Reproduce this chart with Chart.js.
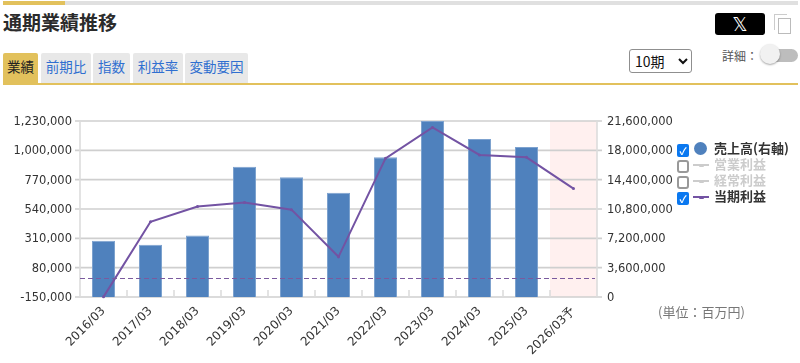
<!DOCTYPE html>
<html lang="ja"><head><meta charset="utf-8">
<style>
html,body{margin:0;padding:0;background:#fff;width:800px;height:363px;overflow:hidden;font-family:"Noto Sans CJK JP","Noto Sans",sans-serif;color:#333}
.a{position:absolute;white-space:nowrap}
#wrap{position:absolute;left:0;top:100px;width:800px;height:263px}
.tab{position:absolute;top:53px;height:30px;background:#e8e8e8;border-radius:2px 2px 0 0;color:#2f6fd0;font-size:13.5px;line-height:27px;text-align:center}
.cb{position:absolute;left:677px;width:12px;height:13px;border-radius:2px;box-sizing:border-box}
.on{background:#0a78f0;color:#fff}
.off{border:2px solid #999;background:#fff;border-radius:3px}
.lg{position:absolute;left:714px;font-size:13px;font-weight:700;line-height:16px}
.dot{position:absolute;left:699px;width:5px;height:3px;border-radius:1px}
select{position:absolute;left:629px;top:49px;width:63px;height:24px;font-size:14px;font-family:"Noto Sans CJK JP";background:#fff;color:#111;border:1px solid #8f8f8f;border-radius:3px;padding:0 0 0 1px}
</style></head><body>
<div class="a" style="left:3px;top:1px;width:62px;height:4px;background:#e2c15c"></div>
<div class="a" style="left:65px;top:1px;width:733px;height:4px;background:#e0e0e0"></div>
<div class="a" style="left:3px;top:9px;font-size:19px;font-weight:700;line-height:26px;color:#2b2b2b">通期業績推移</div>
<div class="tab" style="left:3px;width:35px;background:#e2c15c;color:#222">業績</div>
<div class="tab" style="left:41px;width:50px">前期比</div>
<div class="tab" style="left:93px;width:37px">指数</div>
<div class="tab" style="left:133px;width:50px">利益率</div>
<div class="tab" style="left:185px;width:63px">変動要因</div>
<div class="a" style="left:3px;top:83px;width:795px;height:2px;background:#e2c15c"></div>
<div class="a" style="left:715px;top:13px;width:50px;height:22px;background:#000;border-radius:3px;color:#fff;font-size:19px;line-height:22px;text-align:center;font-family:'DejaVu Sans'">𝕏</div>
<div class="a" style="left:774px;top:14px;width:12px;height:15px;border:1.5px solid #ccc;border-right:0;border-bottom:0"></div>
<div class="a" style="left:778px;top:18px;width:11px;height:14px;border:1.5px solid #bbb;background:#fff"></div>
<select><option>10期</option></select>
<div class="a" style="left:722px;top:47px;font-size:12px;line-height:18px;color:#555">詳細：</div>
<div class="a" style="left:765px;top:49px;width:33px;height:13px;border-radius:7px;background:#bdbdbd"></div>
<div class="a" style="left:760px;top:44px;width:20px;height:20px;border-radius:50%;background:#f1f1f1;box-shadow:0 1px 2px rgba(0,0,0,.35)"></div>
<div id="wrap"><canvas id="c" width="800" height="263"></canvas></div>
<div class="cb on" style="top:144px;font-size:10px;font-weight:700;line-height:13px;text-align:center">✓</div>
<div class="cb off" style="top:160px"></div>
<div class="cb off" style="top:176px"></div>
<div class="cb on" style="top:192px;font-size:10px;font-weight:700;line-height:13px;text-align:center">✓</div>
<div class="a" style="left:694px;top:142px;width:13px;height:13px;border-radius:50%;background:#4f81bd"></div>
<div class="a" style="left:693px;top:164px;width:16px;height:2px;background:#ccc"></div>
<div class="dot" style="top:163.5px;background:#ccc"></div>
<div class="a" style="left:693px;top:180px;width:16px;height:2px;background:#ccc"></div>
<div class="dot" style="top:179.5px;background:#ccc"></div>
<div class="a" style="left:693px;top:196px;width:16px;height:2px;background:#7353a3"></div>
<div class="dot" style="top:195.5px;background:#7353a3"></div>
<div class="lg" style="top:140px">売上高(右軸)</div>
<div class="lg" style="top:156px;color:#ccc">営業利益</div>
<div class="lg" style="top:172px;color:#ccc">経常利益</div>
<div class="lg" style="top:188px">当期利益</div>
<div class="a" style="left:658px;top:304px;font-size:13px;line-height:16px;color:#777">(単位：百万円)</div>
<script src="https://cdn.jsdelivr.net/npm/chart.js@4/dist/chart.umd.min.js"></script>
<script>
const categories=["2016/03","2017/03","2018/03","2019/03","2020/03","2021/03","2022/03","2023/03","2024/03","2025/03","2026/03予"];
const revenue=[6900000,6400000,7550000,16000000,14700000,12800000,17150000,21600000,19400000,18400000,null];
const netProfit=[-149000,440000,560000,590000,535000,165000,937000,1180000,964000,945000,700000];
const leftTicks=[-150000,80000,310000,540000,770000,1000000,1230000];
const rightTicks=[0,3600000,7200000,10800000,14400000,18000000,21600000];
const forecastIndex=10;
const fmt=v=>Number(v).toLocaleString('en-US');
const underlay={id:'underlay',beforeDatasetsDraw(ch){
  const {ctx,scales:{x,yL},chartArea:a}=ch;
  const w=x.getPixelForValue(1)-x.getPixelForValue(0);
  ctx.save();ctx.fillStyle='#fff0ef';
  const l=x.getPixelForValue(forecastIndex)-w/2;
  ctx.fillRect(l,a.top,a.right-l,a.bottom-a.top);
  ctx.strokeStyle='#cfcfcf';ctx.lineWidth=1.6;ctx.beginPath();
  leftTicks.forEach(t=>{const y=yL.getPixelForValue(t);ctx.moveTo(a.left-5,y);ctx.lineTo(a.right+5,y);});
  ctx.stroke();
  ctx.strokeStyle='#dcdcdc';ctx.beginPath();
  for(let i=1;i<categories.length;i++){const px=x.getPixelForValue(i)-w/2;ctx.moveTo(px,a.bottom);ctx.lineTo(px,a.bottom-7);}
  ctx.moveTo(a.left,a.top);ctx.lineTo(a.left,a.bottom);
  ctx.moveTo(a.right,a.top);ctx.lineTo(a.right,a.bottom);
  ctx.stroke();ctx.restore();
},afterDatasetsDraw(ch){
  const {ctx,scales:{yL},chartArea:a}=ch;
  const y=Math.round(yL.getPixelForValue(0))+.5;
  ctx.save();ctx.strokeStyle='#7a5a9e';ctx.lineWidth=1.2;ctx.setLineDash([5,3]);
  ctx.beginPath();ctx.moveTo(a.left,y);ctx.lineTo(a.right-2,y);ctx.stroke();ctx.restore();
}};
const tickFont={family:'"DejaVu Sans"',size:11.5};
new Chart(document.getElementById('c'),{
  data:{labels:categories,datasets:[
    {type:'line',label:'当期利益',data:netProfit,yAxisID:'yL',borderColor:'#7353a3',backgroundColor:'#7353a3',borderWidth:2,pointRadius:1.5,pointBorderWidth:0,tension:0,order:1,clip:false},
    {type:'bar',label:'売上高(右軸)',data:revenue,yAxisID:'yR',backgroundColor:'#4f81bd',borderColor:'#7da2cf',borderWidth:1,barPercentage:.49,categoryPercentage:1,order:2}
  ]},
  options:{responsive:false,animation:false,
    layout:{padding:{top:21}},
    plugins:{legend:{display:false},tooltip:{enabled:false}},
    scales:{
      x:{grid:{display:false,drawTicks:false},border:{display:false},afterFit(s){s.height=66;},
        ticks:{maxRotation:45,minRotation:45,color:'#333',font:{family:'"DejaVu Sans"',size:12},padding:7,autoSkip:false}},
      yL:{position:'left',min:-150000,max:1230000,afterBuildTicks(s){s.ticks=leftTicks.map(v=>({value:v}));},
        afterFit(s){s.width=80;},
        grid:{display:false,drawTicks:false},border:{display:false},
        ticks:{color:'#333',font:tickFont,padding:8,labelOffset:1,callback:fmt}},
      yR:{position:'right',min:0,max:21600000,afterBuildTicks(s){s.ticks=rightTicks.map(v=>({value:v}));},
        afterFit(s){s.width=203;},
        grid:{display:false,drawTicks:false},border:{display:false},
        ticks:{color:'#333',font:tickFont,padding:10,labelOffset:1,callback:fmt}}
    }
  },
  plugins:[underlay]
});
</script>
</body></html>
